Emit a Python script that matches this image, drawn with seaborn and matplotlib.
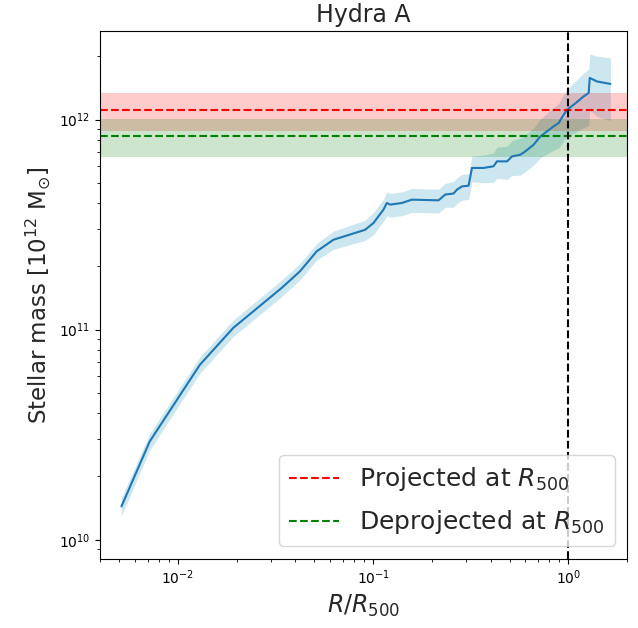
import numpy as np
import pandas as pd
import matplotlib
matplotlib.use("Agg")
import matplotlib.pyplot as plt
import seaborn as sns

# R / R500
radius = [0.00514, 0.00718, 0.01297, 0.01922, 0.0340, 0.0423, 0.0514, 0.0626,
          0.0910, 0.1004, 0.1130, 0.1175, 0.1222, 0.1403, 0.1579,
          0.2163, 0.2340, 0.2582, 0.2686, 0.2850, 0.3083,
          0.3208, 0.3681, 0.4140, 0.4307, 0.4852, 0.5143, 0.5675,
          0.6016, 0.6637, 0.7182, 0.7778, 0.8405, 0.8919, 0.9460, 0.9847,
          1.065, 1.198, 1.271, 1.286, 1.403, 1.642]
# stellar mass (Msun)
mass = [1.44e10, 2.94e10, 6.81e10, 1.02e11, 1.58e11, 1.90e11, 2.36e11, 2.68e11,
        2.99e11, 3.22e11, 3.73e11, 4.01e11, 3.94e11, 4.01e11, 4.16e11,
        4.13e11, 4.40e11, 4.45e11, 4.64e11, 4.81e11, 4.85e11,
        5.89e11, 5.89e11, 6.00e11, 6.33e11, 6.33e11, 6.68e11, 6.81e11,
        7.06e11, 7.60e11, 8.32e11, 8.80e11, 9.29e11, 9.64e11, 1.056e12, 1.116e12,
        1.178e12, 1.291e12, 1.34e12, 1.58e12, 1.52e12, 1.48e12]
# fractional uncertainty
rel_err = [0.10, 0.09, 0.09, 0.09, 0.09, 0.09, 0.09, 0.10,
           0.11, 0.12, 0.12, 0.13, 0.13, 0.13, 0.13,
           0.13, 0.13, 0.14, 0.14, 0.14, 0.14,
           0.14, 0.15, 0.16, 0.17, 0.18, 0.19, 0.20,
           0.20, 0.20, 0.21, 0.22, 0.23, 0.24, 0.25, 0.25,
           0.27, 0.29, 0.30, 0.30, 0.32, 0.33]

proj_mass, proj_err = 1.115e12, 0.23e12
deproj_mass, deproj_err = 0.834e12, 0.17e12

df = pd.DataFrame({"r": radius, "m": mass})
err = np.array(mass) * np.array(rel_err)

sns.set_style("ticks")
plt.rcParams["font.family"] = ["DejaVu Sans"]
fig = plt.figure(figsize=(6.38, 6.28), dpi=100)
ax = fig.add_axes([0.157, 0.110, 0.826, 0.841])

ax.fill_between(radius, np.array(mass) - err, np.array(mass) + err,
                color="lightblue", alpha=0.6, lw=0)
sns.lineplot(data=df, x="r", y="m", ax=ax, color="#1f77b4", lw=1.5)

ax.axhspan(proj_mass - proj_err, proj_mass + proj_err, color="red", alpha=0.2, lw=0)
ax.axhline(proj_mass, color="red", ls="--", lw=1.5, label="Projected at $R_{500}$")
ax.axhspan(deproj_mass - deproj_err, deproj_mass + deproj_err, color="green", alpha=0.2, lw=0)
ax.axhline(deproj_mass, color="green", ls="--", lw=1.5, label="Deprojected at $R_{500}$")
ax.axvline(1.0, color="black", ls="--", lw=1.5)

ax.set_xscale("log")
ax.set_yscale("log")
ax.set_xlim(0.004, 2.0)
ax.set_ylim(8.1e9, 2.65e12)

ax.set_title("Hydra A", fontsize=17)
ax.set_xlabel("$R/R_{500}$", fontsize=17)
ax.set_ylabel("Stellar mass [$10^{12}$ M$_{\\odot}$]", fontsize=16.5)
for s in ax.spines.values():
    s.set_color("black")
ax.tick_params(colors="black", which="both", labelsize=10)
ax.legend(loc="lower right", fontsize=18, labelspacing=0.6)

fig.savefig("out.png", dpi=100)
